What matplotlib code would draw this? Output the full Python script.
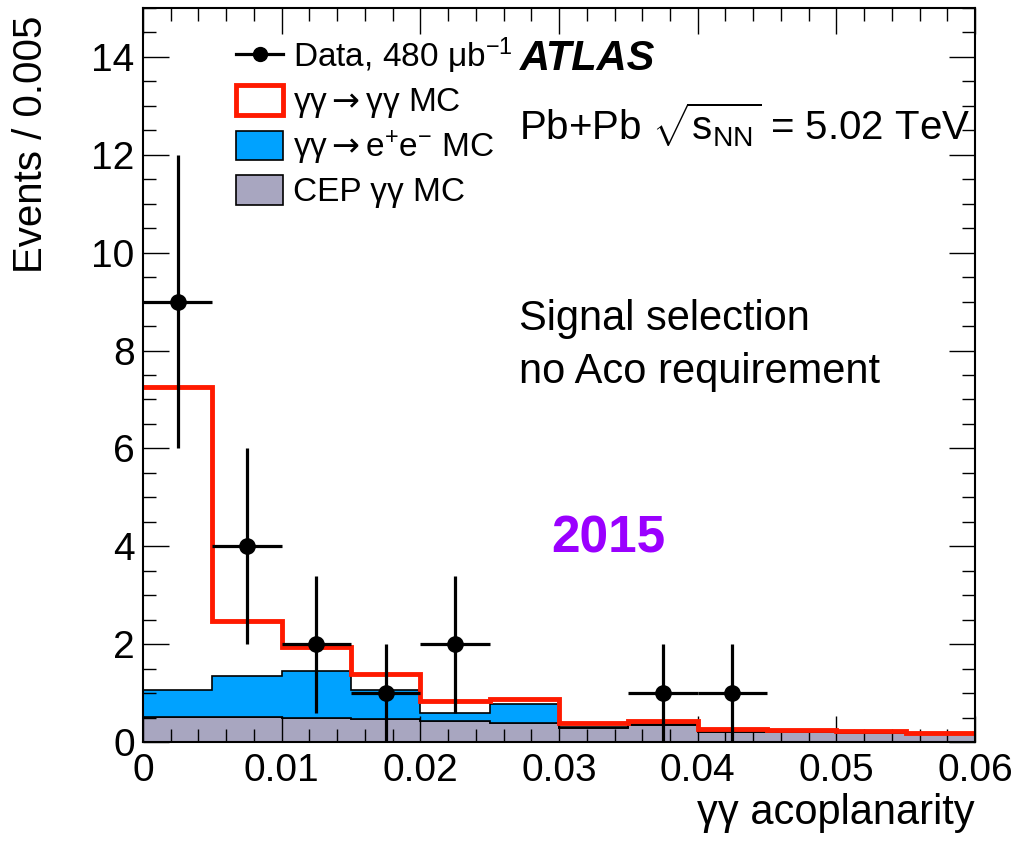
import numpy as np
import matplotlib
matplotlib.use("Agg")
import matplotlib.pyplot as plt
from matplotlib.patches import Patch
from matplotlib.lines import Line2D

plt.rcParams["font.family"] = ["Liberation Sans", "DejaVu Sans"]
plt.rcParams["mathtext.fontset"] = "custom"
plt.rcParams["mathtext.rm"] = "Liberation Sans"
plt.rcParams["mathtext.it"] = "Liberation Sans:italic"
plt.rcParams["mathtext.bf"] = "Liberation Sans:bold"
plt.rcParams["mathtext.sf"] = "DejaVu Sans"

# Binning of the acoplanarity (bin width 0.005)
bin_edges = [0, 0.005, 0.01, 0.015, 0.02, 0.025, 0.03, 0.035, 0.04, 0.045, 0.05, 0.055, 0.06]

# MC components per bin (stacked: CEP, then ee, then signal)
cep_mc = [0.52, 0.52, 0.50, 0.47, 0.42, 0.38, 0.29, 0.35, 0.21, 0.21, 0.19, 0.18]
ee_mc = [0.55, 0.83, 0.95, 0.60, 0.17, 0.39, 0.01, 0.01, 0.01, 0.01, 0.01, 0.01]
signal_mc = [6.18, 1.12, 0.50, 0.32, 0.24, 0.11, 0.09, 0.06, 0.05, 0.03, 0.03, 0.0]

# Data points
data_x = [0.0025, 0.0075, 0.0125, 0.0175, 0.0225, 0.0375, 0.0425]
data_y = [9, 4, 2, 1, 2, 1, 1]
data_yerr = [3, 2, 1.4, 1, 1.4, 1, 1]
data_xerr = 0.0025

xtick_vals = [0, 0.01, 0.02, 0.03, 0.04, 0.05, 0.06]
xtick_labels = ["0", "0.01", "0.02", "0.03", "0.04", "0.05", "0.06"]
ytick_vals = [0, 2, 4, 6, 8, 10, 12, 14]

gray_col = "#A8A6C0"
blue_col = "#00A2FF"
red_col = "#FF1A00"

edges = np.array(bin_edges)
cep = np.array(cep_mc)
ee_top = cep + np.array(ee_mc)
total = ee_top + np.array(signal_mc)

fig = plt.figure(figsize=(10.18, 8.42), dpi=100)
ax = fig.add_axes([0.1405, 0.1188, 0.8173, 0.8717])

ax.stairs(cep, edges, baseline=0, fill=True, facecolor=gray_col, edgecolor="black", lw=1.2)
ax.stairs(ee_top, edges, baseline=cep, fill=True, facecolor=blue_col, edgecolor="black", lw=1.2)
ax.stairs(total, edges, baseline=None, color=red_col, lw=3.5, zorder=3)

ax.errorbar(data_x, data_y, yerr=data_yerr, xerr=data_xerr, fmt="o", color="black",
            markersize=11, elinewidth=2.3, capsize=0, zorder=5, clip_on=False)

ax.set_xlim(0, 0.06)
ax.set_ylim(0, 15)
ax.set_xticks(xtick_vals)
ax.set_xticklabels(xtick_labels)
ax.set_yticks(ytick_vals)
ax.set_xticks(np.arange(0, 0.0601, 0.002), minor=True)
ax.set_yticks(np.arange(0, 15.01, 0.5), minor=True)
ax.tick_params(which="both", direction="in", top=True, right=True, width=1.0, colors="black")
ax.tick_params(which="major", length=19, labelsize=28)
ax.tick_params(which="minor", length=9.5)
ax.tick_params(axis="x", which="major", pad=8)
ax.tick_params(axis="y", which="major", pad=6)
for sp in ax.spines.values():
    sp.set_linewidth(1.5)
    sp.set_zorder(6)

ax.set_xlabel("γγ acoplanarity", fontsize=30, loc="right")
ax.xaxis.set_label_coords(1.0, -0.07)
ax.set_ylabel("Events / 0.005", fontsize=29, loc="top")
ax.yaxis.set_label_coords(-0.112, 0.99)

handles = [
    Line2D([], [], color="black", marker="o", markersize=10, lw=2.3),
    Patch(facecolor="white", edgecolor=red_col, lw=3.5),
    Patch(facecolor=blue_col, edgecolor="black", lw=1.2),
    Patch(facecolor=gray_col, edgecolor="black", lw=1.2),
]
labels = [
    "Data, 480 μb$^{-1}$",
    r"γγ$\mathsf{\rightarrow}$γγ MC",
    r"γγ$\mathsf{\rightarrow}$e$^{+}$e$^{-}$ MC",
    "CEP γγ MC",
]
ax.legend(handles, labels, loc="upper left", bbox_to_anchor=(0.112, 0.962), frameon=False,
          fontsize=24, handlelength=1.4, handleheight=1.0, handletextpad=0.3,
          labelspacing=0.25, borderpad=0, borderaxespad=0)

ax.text(0.453, 0.9155, "ATLAS", transform=ax.transAxes, fontsize=30,
        fontweight="bold", fontstyle="italic", va="baseline")
ax.text(0.452, 0.820, r"Pb+Pb $\sqrt{\mathrm{s}_{\mathrm{NN}}}$ = 5.02 TeV", transform=ax.transAxes,
        fontsize=29, va="baseline")
ax.text(0.452, 0.561, "Signal selection", transform=ax.transAxes, fontsize=30, va="baseline")
ax.text(0.452, 0.489, "no Aco requirement", transform=ax.transAxes, fontsize=30, va="baseline")
ax.text(0.559, 0.2575, "2015", transform=ax.transAxes, fontsize=37, fontweight="bold",
        color="#9A00FF", ha="center", va="baseline")

fig.savefig("out.png", dpi=100)
